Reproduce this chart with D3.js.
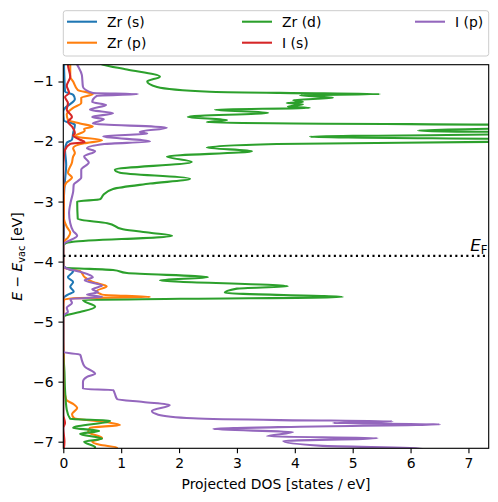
<!DOCTYPE html>
<html>
<head>
<meta charset="utf-8">
<script src="https://cdn.jsdelivr.net/npm/d3@7"></script>
<style>
  html, body { margin: 0; padding: 0; background: #fff; }
  svg { display: block; font-family: "DejaVu Sans", sans-serif; }
</style>
</head>
<body>
<svg id="chart" width="498" height="502"></svg>
<script>
// ---- Data: [energy (eV), DOS (states/eV)] ----
const seriesNames = ["Zr (s)", "Zr (p)", "Zr (d)", "I (s)", "I (p)"];
const seriesColors = ["#1f77b4", "#ff7f0e", "#2ca02c", "#d62728", "#9467bd"];

const zrS = [
  [-0.64,0.01],[-0.97,0.02],[-1.17,0.03],[-1.22,0.17],[-1.29,0.20],[-1.39,0.10],[-1.44,0.03],
  [-1.50,0.00],[-1.65,0.01],[-1.72,0.20],[-1.86,0.17],[-1.97,0.15],[-2.02,0.06],[-2.14,0.03],
  [-2.39,0.05],[-2.64,0.03],[-2.97,0.01],[-3.55,0.01],[-3.74,0.00],
  [-4.07,0.00],[-4.11,0.05],[-4.16,0.17],[-4.26,0.08],[-4.34,0.17],[-4.42,0.12],[-4.50,0.18],
  [-4.55,0.08],[-4.60,0.01],[-4.67,0.00],[-7.20,0.00]
];

const zrP = [
  [-0.64,0.12],[-0.72,0.12],[-0.92,0.12],[-1.00,0.17],[-1.14,0.25],[-1.21,0.51],[-1.27,0.31],
  [-1.36,0.31],[-1.44,0.17],[-1.55,0.06],[-1.64,0.08],[-1.70,0.29],[-1.75,0.51],[-1.79,0.36],
  [-1.82,0.37],[-1.91,0.20],[-1.98,0.67],[-2.03,0.36],[-2.11,0.17],[-2.19,0.20],[-2.25,0.17],
  [-2.35,0.15],[-2.52,0.08],[-2.60,0.15],[-2.69,0.05],[-2.80,0.01],[-3.27,0.01],[-3.42,0.06],
  [-3.52,0.12],[-3.60,0.08],[-3.67,0.01],[-3.74,0.00],
  [-4.07,0.00],[-4.11,0.03],[-4.16,0.29],[-4.26,0.37],[-4.34,0.51],[-4.41,0.75],[-4.49,0.58],
  [-4.55,0.67],[-4.59,1.50],[-4.61,0.17],[-4.64,0.01],[-4.72,0.00],
  [-5.30,0.00],[-5.52,0.01],[-6.02,0.00],[-6.30,0.05],[-6.37,0.17],[-6.44,0.24],[-6.54,0.15],
  [-6.61,0.19],[-6.67,0.72],[-6.72,0.98],[-6.77,0.46],[-6.84,0.43],[-6.94,0.67],[-7.00,0.50],
  [-7.05,0.63],[-7.10,0.93],[-7.17,0.89]
];

const zrD = [
  [-0.64,0.55],[-0.72,0.69],[-0.80,1.10],[-0.92,1.67],[-1.00,1.45],[-1.09,1.62],[-1.17,2.53],
  [-1.19,3.74],[-1.21,5.47],[-1.23,4.09],[-1.27,4.66],[-1.31,3.97],[-1.34,4.14],[-1.36,3.86],
  [-1.38,4.14],[-1.42,3.88],[-1.44,4.26],[-1.47,2.62],[-1.52,3.54],[-1.59,2.15],[-1.64,2.83],
  [-1.68,2.48],[-1.74,9.50],[-1.82,6.13],[-1.86,9.00],[-1.92,4.26],[-1.97,8.50],[-2.00,8.00],
  [-2.04,3.69],[-2.10,2.48],[-2.16,3.26],[-2.25,1.79],[-2.34,2.22],[-2.47,0.89],[-2.52,0.98],
  [-2.62,2.19],[-2.70,1.50],[-2.79,0.86],[-2.89,0.69],[-2.96,0.64],[-3.00,0.24],[-3.29,0.25],
  [-3.36,0.76],[-3.46,1.03],[-3.52,1.50],[-3.57,1.88],[-3.67,0.17],[-3.70,0.03],[-3.74,0.00],
  [-4.07,0.00],[-4.10,0.03],[-4.14,0.86],[-4.19,1.10],[-4.26,2.50],[-4.31,1.67],[-4.41,3.88],
  [-4.45,3.00],[-4.52,2.79],[-4.59,4.83],[-4.62,2.02],[-4.64,0.34],[-4.67,0.38],[-4.75,0.55],
  [-4.84,0.29],[-4.90,0.03],[-4.94,0.00],
  [-5.47,0.00],[-5.84,0.02],[-6.14,0.03],[-6.47,0.06],[-6.62,0.12],[-6.65,0.81],[-6.77,0.17],
  [-6.82,0.62],[-6.87,0.29],[-6.95,0.67],[-7.00,0.36],[-7.09,0.55],[-7.17,0.46]
];

const iS = [
  [-0.64,0.08],[-0.72,0.08],[-0.92,0.12],[-1.07,0.06],[-1.19,0.10],[-1.26,0.03],[-1.36,0.08],
  [-1.47,0.06],[-1.59,0.15],[-1.67,0.08],[-1.75,0.15],[-1.86,0.20],[-1.90,0.17],[-1.97,0.29],
  [-2.01,0.37],[-2.04,0.12],[-2.14,0.03],[-2.25,0.01],[-2.47,0.00],
  [-6.55,0.00],[-6.69,0.03],[-6.77,0.00],[-7.00,0.02],[-7.17,0.00]
];

const iP = [
  [-0.64,0.20],[-0.72,0.24],[-0.89,0.32],[-1.09,0.34],[-1.19,0.51],[-1.21,1.29],[-1.24,0.58],
  [-1.34,0.50],[-1.39,0.74],[-1.47,0.46],[-1.53,0.86],[-1.59,0.50],[-1.63,0.70],[-1.70,0.51],
  [-1.77,1.79],[-1.84,1.32],[-1.87,1.45],[-1.91,0.69],[-2.00,1.50],[-2.04,0.71],[-2.11,0.41],
  [-2.16,0.55],[-2.25,0.36],[-2.35,0.44],[-2.47,0.31],[-2.60,0.31],[-2.72,0.18],[-2.84,0.17],
  [-3.00,0.13],[-3.19,0.10],[-3.36,0.12],[-3.49,0.17],[-3.57,0.24],[-3.67,0.06],[-3.70,0.01],
  [-3.74,0.00],
  [-4.07,0.00],[-4.11,0.05],[-4.17,0.29],[-4.26,0.51],[-4.31,0.37],[-4.40,0.67],[-4.46,0.50],
  [-4.51,0.60],[-4.55,0.41],[-4.59,0.67],[-4.62,0.12],[-4.69,0.15],[-4.77,0.06],[-4.84,0.08],
  [-4.89,0.01],[-4.94,0.00],
  [-5.47,0.00],[-5.51,0.01],[-5.55,0.29],[-5.64,0.32],[-5.75,0.37],[-5.87,0.55],[-5.92,0.41],
  [-6.00,0.34],[-6.12,0.34],[-6.14,0.86],[-6.20,0.89],[-6.29,0.93],[-6.34,1.38],[-6.39,1.84],
  [-6.49,1.53],[-6.55,1.64],[-6.61,2.24],[-6.64,3.74],[-6.66,5.69],[-6.69,4.66],[-6.71,6.51],
  [-6.75,4.09],[-6.79,2.59],[-6.84,3.97],[-6.91,3.52],[-6.94,5.43],[-6.99,3.80],[-7.07,4.48],
  [-7.11,6.20],[-7.17,5.81]
];

const seriesData = [zrS, zrP, zrD, iS, iP];

const xTicks = [0, 1, 2, 3, 4, 5, 6, 7];
const yTicks = [-7, -6, -5, -4, -3, -2, -1];
const xDomain = [0, 7.35];
const yDomain = [-7.11, -0.72];
const fermiLevel = -3.905;

// ---- Layout (matplotlib-like: 1pt = 100/72 px) ----
const PT = 100 / 72;
const margin = { left: 63.3, right: 488.7, top: 64.7, bottom: 448.3 };
const svg = d3.select("#chart");

const x = d3.scaleLinear().domain(xDomain).range([margin.left, margin.right]);
const y = d3.scaleLinear().domain(yDomain).range([margin.bottom, margin.top]);

svg.append("defs").append("clipPath").attr("id", "clip")
  .append("rect")
  .attr("x", margin.left).attr("y", margin.top)
  .attr("width", margin.right - margin.left)
  .attr("height", margin.bottom - margin.top);

const plot = svg.append("g").attr("clip-path", "url(#clip)");

const line = d3.line()
  .x(d => x(d[1]))
  .y(d => y(d[0]))
  .curve(d3.curveMonotoneY);

seriesData.forEach((data, i) => {
  const sorted = data.slice().sort((a, b) => a[0] - b[0]);
  plot.append("path")
    .datum(sorted)
    .attr("d", line)
    .attr("fill", "none")
    .attr("stroke", seriesColors[i])
    .attr("stroke-width", 1.5 * PT)
    .attr("stroke-linejoin", "round")
    .attr("stroke-linecap", "butt");
});

// Fermi level
plot.append("line")
  .attr("x1", x(xDomain[0])).attr("x2", x(xDomain[1]))
  .attr("y1", y(fermiLevel)).attr("y2", y(fermiLevel))
  .attr("stroke", "#000").attr("stroke-width", 1.5 * PT)
  .attr("stroke-dasharray", `${1.5 * PT},${2.475 * PT}`);

const ef = svg.append("text")
  .attr("x", x(7.33)).attr("y", y(fermiLevel) - 5)
  .attr("text-anchor", "end")
  .attr("font-size", 16.7)
  .attr("fill", "#000");
ef.append("tspan").attr("font-style", "italic").text("E");
ef.append("tspan").attr("font-size", 11.7).attr("dy", 3).text("F");

// Axes
const xAxis = d3.axisBottom(x).tickValues(xTicks).tickSize(3.5 * PT).tickPadding(3.5 * PT)
  .tickFormat(d3.format("d"));
const yAxis = d3.axisLeft(y).tickValues(yTicks).tickSize(3.5 * PT).tickPadding(3.5 * PT)
  .tickFormat(d => (d < 0 ? "\u2212" + Math.abs(d) : String(d)));

const gx = svg.append("g").attr("transform", `translate(0,${margin.bottom})`).call(xAxis);
const gy = svg.append("g").attr("transform", `translate(${margin.left},0)`).call(yAxis);
[gx, gy].forEach(g => {
  g.select(".domain").remove();
  g.selectAll(".tick line").attr("stroke", "#000").attr("stroke-width", 0.8 * PT);
  g.selectAll(".tick text").attr("font-size", 13.9).attr("fill", "#000")
    .attr("font-family", "DejaVu Sans, sans-serif");
});

// frame
svg.append("rect")
  .attr("x", margin.left).attr("y", margin.top)
  .attr("width", margin.right - margin.left)
  .attr("height", margin.bottom - margin.top)
  .attr("fill", "none").attr("stroke", "#000").attr("stroke-width", 0.8 * PT);

// Axis labels
svg.append("text")
  .attr("x", (margin.left + margin.right) / 2).attr("y", 489)
  .attr("text-anchor", "middle").attr("font-size", 13.9).attr("fill", "#000")
  .text("Projected DOS [states / eV]");

const yl = svg.append("text")
  .attr("transform", `translate(22,${(margin.top + margin.bottom) / 2}) rotate(-90)`)
  .attr("text-anchor", "middle").attr("font-size", 13.9).attr("fill", "#000");
yl.append("tspan").attr("font-style", "italic").text("E");
yl.append("tspan").text(" \u2212 ");
yl.append("tspan").attr("font-style", "italic").text("E");
yl.append("tspan").attr("font-size", 9.7).attr("dy", 3).text("vac");
yl.append("tspan").attr("dy", -3).text(" [eV]");

// Legend
const legend = svg.append("g");
legend.append("rect")
  .attr("x", 63.3).attr("y", 10.7).attr("width", 425.4).attr("height", 45.3)
  .attr("rx", 2.5).attr("fill", "#fff").attr("fill-opacity", 0.8)
  .attr("stroke", "#cccccc").attr("stroke-width", 1);

const colX = [67, 242, 415];
const rowY = [21.7, 42.7];
const legendOrder = [[0, 0, 0], [1, 0, 1], [2, 1, 0], [3, 1, 1], [4, 2, 0]];
legendOrder.forEach(([si, col, row]) => {
  const gx0 = colX[col], gy0 = rowY[row];
  legend.append("line")
    .attr("x1", gx0).attr("x2", gx0 + 30)
    .attr("y1", gy0).attr("y2", gy0)
    .attr("stroke", seriesColors[si]).attr("stroke-width", 1.5 * PT);
  legend.append("text")
    .attr("x", gx0 + 40).attr("y", gy0 + 5)
    .attr("font-size", 13.9).attr("fill", "#000")
    .text(seriesNames[si]);
});
</script>
</body>
</html>
